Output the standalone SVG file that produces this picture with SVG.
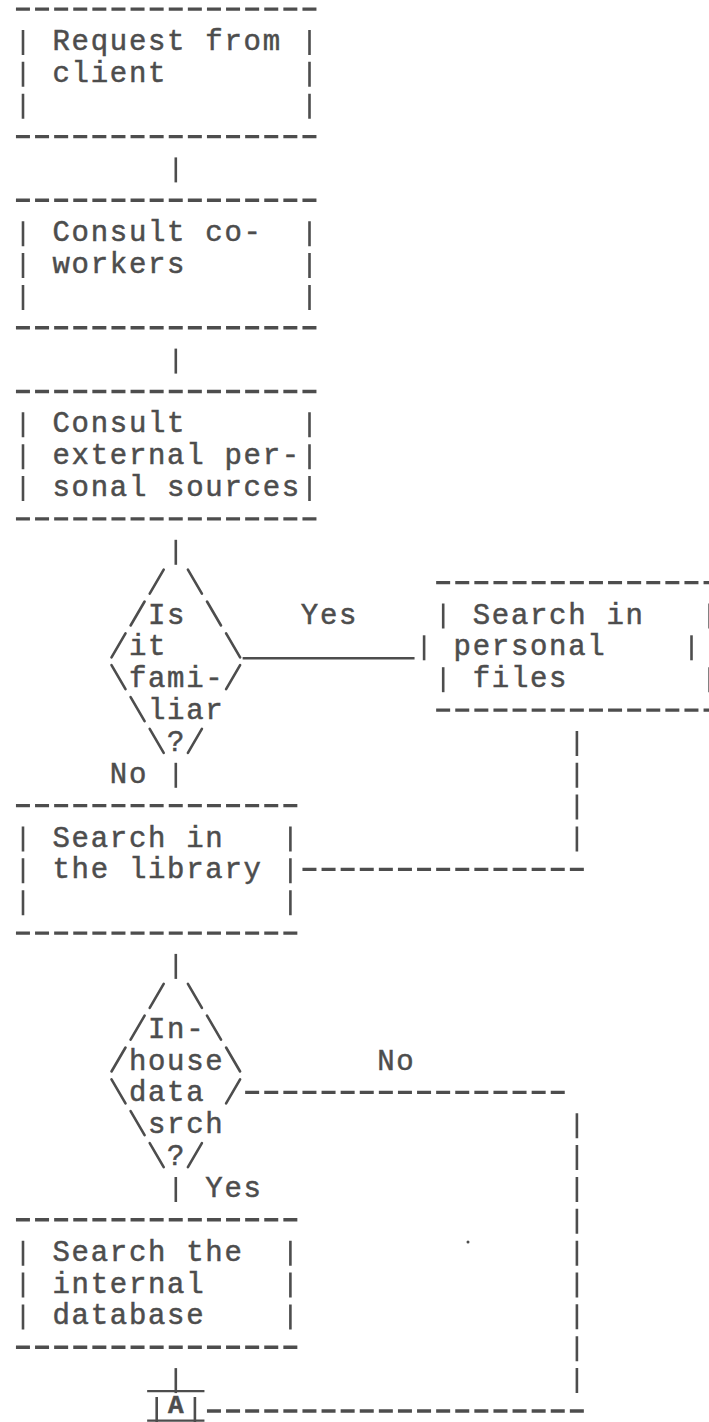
<svg xmlns="http://www.w3.org/2000/svg" width="709" height="1422" viewBox="0 0 709 1422">
<style>
.t{font-family:"Liberation Mono","DejaVu Sans Mono",monospace;font-size:29px;letter-spacing:1.7px;fill:#4d4d4d;stroke:#4d4d4d;stroke-width:0.5px}
.h{stroke:#4d4d4d;stroke-width:3.4;stroke-dasharray:14 5.1;fill:none}
.v{stroke:#4d4d4d;stroke-width:2.6;stroke-dasharray:25 6.86;fill:none}
.s{stroke:#4d4d4d;stroke-width:2.6;fill:none;stroke-linecap:round}
.u{stroke:#4d4d4d;stroke-width:2.4;fill:none}
</style>
<rect width="709" height="1422" fill="#ffffff"/>

<g id="n-request">
<line class="h" x1="15.95" y1="9.1" x2="316.45" y2="9.1"/>
<line class="h" x1="15.95" y1="136.6" x2="316.45" y2="136.6"/>
<line class="v" x1="23" y1="30" x2="23" y2="118.7"/>
<line class="v" x1="309.5" y1="30" x2="309.5" y2="118.7"/>
<text class="t" x="52.5" y="50">Request from</text>
<text class="t" x="52.5" y="81.9">client</text>
</g>

<g id="n-coworkers">
<line class="h" x1="15.95" y1="200.3" x2="316.45" y2="200.3"/>
<line class="h" x1="15.95" y1="327.7" x2="316.45" y2="327.7"/>
<line class="v" x1="23" y1="221.2" x2="23" y2="309.9"/>
<line class="v" x1="309.5" y1="221.2" x2="309.5" y2="309.9"/>
<text class="t" x="52.5" y="241.2">Consult co-</text>
<text class="t" x="52.5" y="273">workers</text>
</g>

<g id="n-external">
<line class="h" x1="15.95" y1="391.5" x2="316.45" y2="391.5"/>
<line class="h" x1="15.95" y1="518.9" x2="316.45" y2="518.9"/>
<line class="v" x1="23" y1="412.3" x2="23" y2="501"/>
<line class="v" x1="309.5" y1="412.3" x2="309.5" y2="501"/>
<text class="t" x="52.5" y="432.3">Consult</text>
<text class="t" x="52.5" y="464.2">external per-</text>
<text class="t" x="52.5" y="496">sonal sources</text>
</g>

<g id="d-familiar">
<line class="s" x1="149.7" y1="593.6" x2="163.7" y2="569.6"/>
<line class="s" x1="187.9" y1="569.6" x2="201.9" y2="593.6"/>
<line class="s" x1="130.6" y1="625.5" x2="144.6" y2="601.5"/>
<line class="s" x1="207" y1="601.5" x2="221" y2="625.5"/>
<line class="s" x1="111.5" y1="657.3" x2="125.5" y2="633.3"/>
<line class="s" x1="226.1" y1="633.3" x2="240.1" y2="657.3"/>
<line class="s" x1="111.5" y1="665.2" x2="125.5" y2="689.2"/>
<line class="s" x1="226.1" y1="689.2" x2="240.1" y2="665.2"/>
<line class="s" x1="130.6" y1="697.1" x2="144.6" y2="721.1"/>
<line class="s" x1="149.7" y1="728.9" x2="163.7" y2="752.9"/>
<line class="s" x1="187.9" y1="752.9" x2="201.9" y2="728.9"/>
<text class="t" x="148" y="623.5">Is</text>
<text class="t" x="128.9" y="655.3">it</text>
<text class="t" x="128.9" y="687.2">fami-</text>
<text class="t" x="148" y="719.1">liar</text>
<text class="t" x="167.1" y="750.9">?</text>
</g>

<g id="n-personal">
<line class="h" x1="436.15" y1="582.6" x2="725" y2="582.6"/>
<line class="h" x1="436.15" y1="710.1" x2="725" y2="710.1"/>
<line class="v" x1="443.2" y1="603.5" x2="443.2" y2="628.5"/>
<line class="v" x1="424.1" y1="635.3" x2="424.1" y2="660.3"/>
<line class="v" x1="443.2" y1="667.2" x2="443.2" y2="692.2"/>
<line class="v" x1="691.5" y1="635.3" x2="691.5" y2="660.3"/>
<line class="v" x1="710.3" y1="603.5" x2="710.3" y2="628.5" style="stroke-width:4"/>
<line class="v" x1="710.3" y1="667.2" x2="710.3" y2="692.2" style="stroke-width:4"/>
<text class="t" x="472.7" y="623.5">Search in</text>
<text class="t" x="453.6" y="655.3">personal</text>
<text class="t" x="472.7" y="687.2">files</text>
</g>

<g id="n-library">
<line class="h" x1="15.95" y1="805.6" x2="297.35" y2="805.6"/>
<line class="h" x1="15.95" y1="933.1" x2="297.35" y2="933.1"/>
<line class="v" x1="23" y1="826.5" x2="23" y2="915.2"/>
<line class="v" x1="290.4" y1="826.5" x2="290.4" y2="915.2"/>
<text class="t" x="52.5" y="846.5">Search in</text>
<text class="t" x="52.5" y="878.4">the library</text>
</g>

<g id="d-inhouse">
<line class="s" x1="149.7" y1="1007.8" x2="163.7" y2="983.8"/>
<line class="s" x1="187.9" y1="983.8" x2="201.9" y2="1007.8"/>
<line class="s" x1="130.6" y1="1039.7" x2="144.6" y2="1015.7"/>
<line class="s" x1="207" y1="1015.7" x2="221" y2="1039.7"/>
<line class="s" x1="111.5" y1="1071.5" x2="125.5" y2="1047.5"/>
<line class="s" x1="226.1" y1="1047.5" x2="240.1" y2="1071.5"/>
<line class="s" x1="111.5" y1="1079.4" x2="125.5" y2="1103.4"/>
<line class="s" x1="226.1" y1="1103.4" x2="240.1" y2="1079.4"/>
<line class="s" x1="130.6" y1="1111.2" x2="144.6" y2="1135.2"/>
<line class="s" x1="149.7" y1="1143.1" x2="163.7" y2="1167.1"/>
<line class="s" x1="187.9" y1="1167.1" x2="201.9" y2="1143.1"/>
<text class="t" x="148" y="1037.7">In-</text>
<text class="t" x="128.9" y="1069.5">house</text>
<text class="t" x="128.9" y="1101.4">data</text>
<text class="t" x="148" y="1133.2">srch</text>
<text class="t" x="167.1" y="1165.1">?</text>
</g>

<g id="n-database">
<line class="h" x1="15.95" y1="1219.8" x2="297.35" y2="1219.8"/>
<line class="h" x1="15.95" y1="1347.3" x2="297.35" y2="1347.3"/>
<line class="v" x1="23" y1="1240.7" x2="23" y2="1329.4"/>
<line class="v" x1="290.4" y1="1240.7" x2="290.4" y2="1329.4"/>
<text class="t" x="52.5" y="1260.7">Search the</text>
<text class="t" x="52.5" y="1292.5">internal</text>
<text class="t" x="52.5" y="1324.4">database</text>
</g>

<g id="n-A">
<line class="v" x1="156.7" y1="1397" x2="156.7" y2="1422"/>
<line class="v" x1="194.9" y1="1397" x2="194.9" y2="1422"/>
<line class="u" x1="147.15" y1="1420.6" x2="204.45" y2="1420.6"/>
<text class="t" x="168" y="1413" style="font-weight:bold;font-size:26px;letter-spacing:0">A</text>
</g>

<g id="connectors">
<line class="v" x1="175.8" y1="157.4" x2="175.8" y2="182.4"/>
<line class="v" x1="175.8" y1="348.6" x2="175.8" y2="373.6"/>
<line class="v" x1="175.8" y1="539.8" x2="175.8" y2="564.8"/>
<line class="u" x1="242.65" y1="658.3" x2="414.55" y2="658.3"/>
<text class="t" x="300.8" y="623.5">Yes</text>
<line class="v" x1="576.9" y1="730.9" x2="576.9" y2="851.5"/>
<line class="h" x1="302.45" y1="869.4" x2="583.85" y2="869.4"/>
<line class="v" x1="175.8" y1="762.8" x2="175.8" y2="787.8"/>
<text class="t" x="109.8" y="782.8">No</text>
<line class="v" x1="175.8" y1="953.9" x2="175.8" y2="978.9"/>
<text class="t" x="377.2" y="1069.5">No</text>
<line class="h" x1="245.15" y1="1092.4" x2="564.75" y2="1092.4"/>
<line class="v" x1="576.9" y1="1113.2" x2="576.9" y2="1393.1"/>
<line class="v" x1="175.8" y1="1177" x2="175.8" y2="1202"/>
<text class="t" x="205.3" y="1197">Yes</text>
<line class="v" x1="175.8" y1="1368.1" x2="175.8" y2="1393.1"/>
<line class="u" x1="147.15" y1="1391.1" x2="204.45" y2="1391.1"/>
<line class="h" x1="206.95" y1="1411" x2="583.85" y2="1411"/>
</g>
<circle cx="468" cy="1242" r="1.5" fill="#4d4d4d"/>
</svg>
